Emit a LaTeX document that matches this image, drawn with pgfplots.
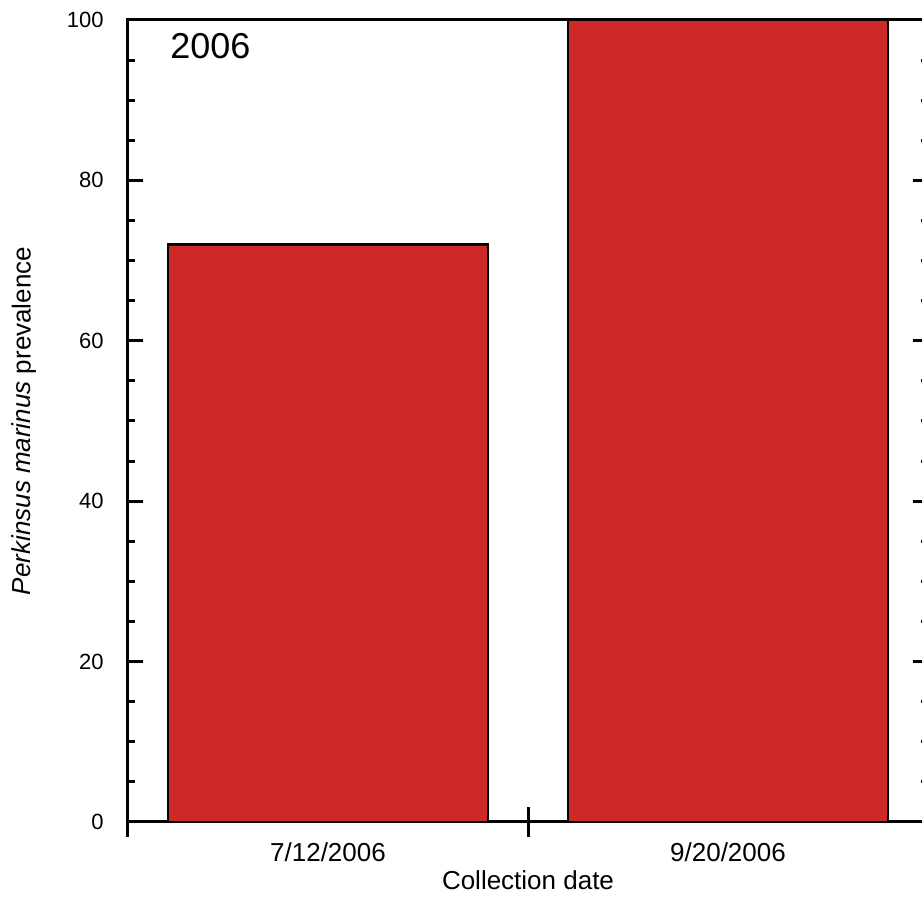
\documentclass[border=0pt]{standalone}
\usepackage{pgfplots}
\pgfplotsset{compat=1.18}
\usepackage{fontspec}
\setmainfont{Liberation Sans}
\usetikzlibrary{calc}
\definecolor{barred}{RGB}{205,41,41}

\begin{document}
\begin{tikzpicture}
\begin{axis}[
    name=ax,
    scale only axis,
    width=400pt, height=401pt,
    xmin=0, xmax=2,
    ymin=0, ymax=100,
    axis line style={line width=1.5pt},
    every tick/.style={black, line width=1.5pt},
    tick align=inside,
    major tick length=7.5pt,
    minor tick length=3.5pt,
    % category labels (no tick marks)
    xtick={0.5,1.5},
    xticklabels={7/12/2006,9/20/2006},
    x tick style={draw=none},
    xtick pos=left,
    % category separators
    extra x ticks={0,1,2},
    extra x tick labels={},
    extra x tick style={major tick length=15pt, tick align=center,
        x tick style={draw=black, line width=1.5pt}},
    ytick={0,20,40,60,80,100},
    minor y tick num=3,
    ytick pos=both,
    yticklabel pos=left,
    yticklabel style={font=\fontsize{11}{13}\selectfont, anchor=east, inner sep=0pt, xshift=-12pt},
    xticklabel style={font=\fontsize{13}{15}\selectfont, anchor=center, yshift=-15pt},
    every axis y label/.style={at={(axis description cs:0,0.5)}, xshift=-52pt, rotate=90, anchor=center, font=\fontsize{13}{15}\selectfont},
    every axis x label/.style={at={(axis description cs:0.5,0)}, yshift=-29pt, anchor=center, font=\fontsize{13}{15}\selectfont},
    xlabel={Collection date},
    ylabel={\textit{Perkinsus marinus} prevalence},
    /pgf/number format/assume math mode=true,
]
    \addplot[ybar, bar width=0.8, fill=barred, draw=black, line width=1.4pt]
        coordinates {(0.5,72) (1.5,100)};
    \node[anchor=north west, inner sep=0pt, font=\fontsize{18}{20}\selectfont]
        at (axis cs:0.105,98.4) {2006};
\end{axis}
\pgfresetboundingbox
\path[use as bounding box] ($(ax.south west)+(-64pt,-37.5pt)$) rectangle ($(ax.north east)+(-3pt,10pt)$);
\end{tikzpicture}
\end{document}
